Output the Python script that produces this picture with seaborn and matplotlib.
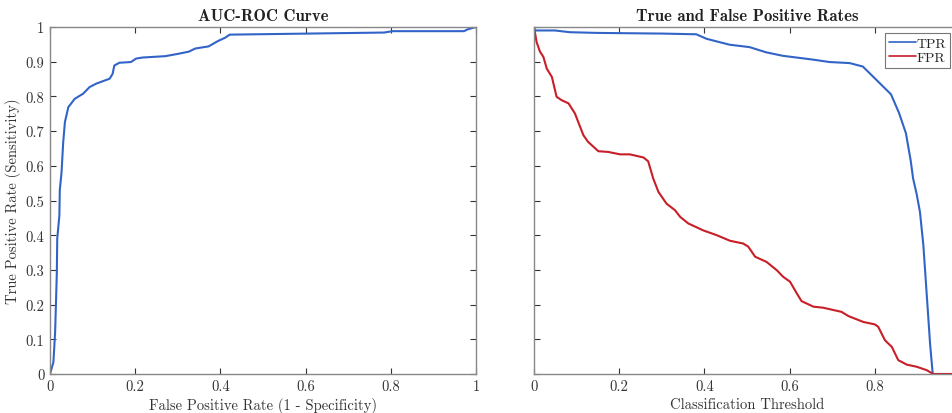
import numpy as np
import pandas as pd
import matplotlib
matplotlib.use("Agg")
import matplotlib.pyplot as plt
from matplotlib.ticker import FuncFormatter, MultipleLocator, FixedLocator
import seaborn as sns

# ROC curve data
roc_fpr = [0.0, 0.008, 0.012, 0.016, 0.017, 0.022, 0.023, 0.027, 0.031, 0.035, 0.043,
           0.058, 0.078, 0.093, 0.109, 0.140, 0.147, 0.151, 0.163, 0.190, 0.202, 0.217,
           0.271, 0.302, 0.326, 0.341, 0.372, 0.395, 0.411, 0.422, 0.604, 0.784, 0.804,
           0.972, 0.980, 1.0]
roc_tpr = [0.0, 0.034, 0.12, 0.29, 0.39, 0.457, 0.53, 0.58, 0.668, 0.726, 0.769,
           0.793, 0.808, 0.827, 0.837, 0.851, 0.865, 0.889, 0.897, 0.899, 0.909, 0.912,
           0.916, 0.923, 0.929, 0.938, 0.944, 0.960, 0.969, 0.978, 0.981, 0.984, 0.988,
           0.988, 0.993, 1.0]

# TPR vs threshold
tpr_thr = [0.0, 0.002, 0.049, 0.084, 0.147, 0.303, 0.381, 0.405, 0.459, 0.506, 0.545,
           0.584, 0.655, 0.694, 0.741, 0.772, 0.810, 0.838, 0.857, 0.873, 0.884, 0.890,
           0.898, 0.906, 0.914, 0.922, 0.930, 0.936, 1.0]
tpr_val = [1.0, 0.99, 0.99, 0.985, 0.983, 0.981, 0.979, 0.966, 0.949, 0.942, 0.927,
           0.917, 0.906, 0.899, 0.896, 0.886, 0.840, 0.806, 0.752, 0.694, 0.617, 0.563,
           0.520, 0.467, 0.371, 0.227, 0.083, 0.0, 0.0]

# FPR vs threshold
fpr_thr = [0.0, 0.006, 0.014, 0.022, 0.030, 0.042, 0.053, 0.065, 0.081, 0.096, 0.116,
           0.127, 0.151, 0.174, 0.202, 0.225, 0.257, 0.268, 0.280, 0.292, 0.311, 0.331,
           0.343, 0.362, 0.397, 0.429, 0.460, 0.491, 0.503, 0.519, 0.546, 0.570, 0.585,
           0.601, 0.617, 0.628, 0.656, 0.679, 0.722, 0.738, 0.773, 0.800, 0.808, 0.824,
           0.840, 0.855, 0.875, 0.898, 0.922, 0.937, 1.0]
fpr_val = [1.0, 0.957, 0.929, 0.914, 0.880, 0.856, 0.799, 0.789, 0.780, 0.751, 0.688,
           0.669, 0.642, 0.640, 0.633, 0.633, 0.624, 0.613, 0.563, 0.525, 0.491, 0.472,
           0.453, 0.434, 0.414, 0.400, 0.384, 0.376, 0.367, 0.338, 0.323, 0.299, 0.280,
           0.266, 0.232, 0.210, 0.194, 0.191, 0.179, 0.167, 0.150, 0.143, 0.136, 0.097,
           0.078, 0.040, 0.027, 0.021, 0.011, 0.0, 0.0]

titles = ["AUC-ROC Curve", "True and False Positive Rates"]
xlabels = ["False Positive Rate (1 - Specificity)", "Classification Threshold"]
ylabel_left = "True Positive Rate (Sensitivity)"
right_xticks = [0, 0.2, 0.4, 0.6, 0.8]

sns.set_style("ticks")
plt.rcParams["font.family"] = ["cmr10", "DejaVu Serif"]
plt.rcParams["axes.formatter.use_mathtext"] = True
plt.rcParams["mathtext.fontset"] = "cm"

BLUE = "#3264C8"
RED = "#C81E28"

fig = plt.figure(figsize=(9.53, 4.14), dpi=100)
ax1 = fig.add_axes([50 / 953, 39 / 414, 426 / 953, 347 / 414])
ax2 = fig.add_axes([534 / 953, 39 / 414, 426 / 953, 347 / 414])

df_roc = pd.DataFrame({"x": roc_fpr, "y": roc_tpr})
sns.lineplot(data=df_roc, x="x", y="y", ax=ax1, color=BLUE, lw=1.5,
             sort=False, estimator=None)

df_tpr = pd.DataFrame({"x": tpr_thr, "y": tpr_val})
df_fpr = pd.DataFrame({"x": fpr_thr, "y": fpr_val})
sns.lineplot(data=df_tpr, x="x", y="y", ax=ax2, color=BLUE, lw=1.5,
             sort=False, estimator=None, label="TPR")
sns.lineplot(data=df_fpr, x="x", y="y", ax=ax2, color=RED, lw=1.5,
             sort=False, estimator=None, label="FPR")

fmt = FuncFormatter(lambda v, p: "%g" % round(v, 3))

for ax, title, xl in zip([ax1, ax2], titles, xlabels):
    ax.set_xlim(0, 1)
    ax.set_ylim(0, 1)
    ax.xaxis.set_major_locator(MultipleLocator(0.2))
    ax.yaxis.set_major_locator(MultipleLocator(0.1))
    ax.xaxis.set_major_formatter(fmt)
    ax.yaxis.set_major_formatter(fmt)
    ax.tick_params(direction="in", length=4, width=0.8, colors="#333333",
                   labelsize=10.5, top=True, right=True, pad=4)
    for s in ax.spines.values():
        s.set_visible(True)
        s.set_color("#888888")
        s.set_linewidth(1.0)
    ax.set_title(title, fontsize=12, fontweight="bold",
                 fontfamily=["cmb10", "DejaVu Serif"], pad=5, color="#222222")
    ax.set_xlabel(xl, fontsize=10.5, color="#333333", labelpad=3)
    ax.set_ylabel("")

ax2.xaxis.set_major_locator(FixedLocator(right_xticks))
ax1.set_ylabel(ylabel_left, fontsize=10.5, color="#333333", labelpad=3)
ax2.tick_params(labelleft=False)

leg = ax2.legend(loc="upper right", bbox_to_anchor=(950 / 953, 380 / 414),
                 bbox_transform=fig.transFigure, fontsize=10, frameon=True,
                 fancybox=False, handlelength=1.9, borderpad=0.3,
                 labelspacing=0.1, handletextpad=0.05, borderaxespad=0.0)
leg.get_frame().set_edgecolor("#555555")
leg.get_frame().set_linewidth(0.8)
for h in leg.get_lines():
    h.set_linewidth(1.2)

fig.savefig("out.png", dpi=100)
